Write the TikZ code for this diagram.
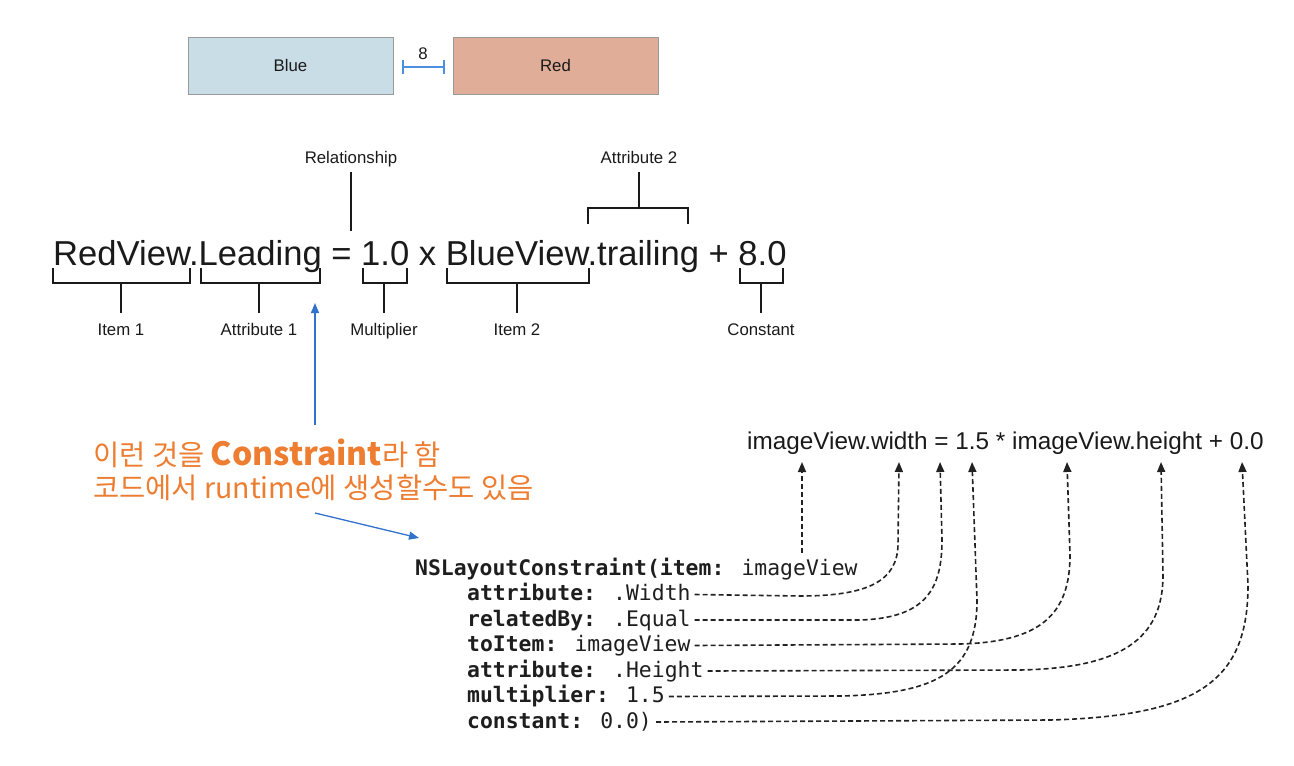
\documentclass[tikz,border=0pt]{standalone}
\usepackage{fontspec}
\setmainfont{Liberation Sans}
\newfontfamily\krfont{Noto Sans CJK KR}
\newfontfamily\codefont{DejaVu Sans Mono}
\usetikzlibrary{arrows.meta}
\definecolor{ink}{HTML}{1A1A1A}
\definecolor{codeink}{HTML}{1E1E1E}
\definecolor{dashink}{HTML}{222222}
\definecolor{bluefill}{HTML}{C9DDE7}
\definecolor{redfill}{HTML}{E0AD98}
\definecolor{boxline}{HTML}{9A9A9A}
\definecolor{dimblue}{HTML}{4A8FE0}
\definecolor{arrblue}{HTML}{3272CC}
\definecolor{orangetxt}{HTML}{ED7D31}
\tikzset{
  viewbox/.style={draw=boxline, line width=1pt, minimum width=205pt, minimum height=57pt, inner sep=0, text=ink, font=\fontsize{16.8}{18}\selectfont},
  lbl/.style={font=\fontsize{16.8}{18}\selectfont, inner sep=0, anchor=base, text=ink},
  brk/.style={line width=1.3pt, draw=ink},
  codeline/.style={font=\codefont\fontsize{21.4}{25}\selectfont, anchor=base west, inner sep=0, text=codeink},
  dsh/.style={dash pattern=on 5pt off 3pt, line width=1.6pt, draw=dashink, -{Triangle[length=10pt,width=8pt]}},
  bluearr/.style={draw=arrblue, line width=1.3pt, -{Triangle[length=10pt,width=8pt]}},
  note/.style={anchor=base west, inner sep=0, text=orangetxt, font=\krfont\fontsize{28.5}{33}\selectfont},
}
\begin{document}
\begin{tikzpicture}[x=1pt,y=-1pt]
\useasboundingbox (0,0) rectangle (1294,766);
\fill[white] (0,0) rectangle (1294,766);

% top boxes
\node[viewbox, fill=bluefill] (blue) at (290.5,65.5) {Blue};
\node[viewbox, fill=redfill] (red) at (555.5,65.5) {Red};
\draw[draw=dimblue, line width=2pt, {Bar[width=14pt]}-{Bar[width=14pt]}] ([xshift=8pt,yshift=-1.5pt]blue.east) -- ([xshift=-8pt,yshift=-1.5pt]red.west) node[midway, above=6pt, inner sep=0, text=ink, font=\fontsize{16.8}{18}\selectfont] (gap) {8};

% main equation
\node[anchor=base west, inner sep=0, text=ink, font=\fontsize{34.6}{40}\selectfont] (eq) at (53,265) {RedView.Leading = 1.0 x BlueView.trailing + 8.0};

% labels
\node[lbl] (rel) at (351,163) {Relationship};
\node[lbl] (a2) at (639,163) {Attribute 2};
\node[lbl] (i1) at (121,335) {Item 1};
\node[lbl] (a1) at (259,335) {Attribute 1};
\node[lbl] (mul) at (384,335) {Multiplier};
\node[lbl] (i2) at (517,335) {Item 2};
\node[lbl] (con) at (761,335) {Constant};

% brackets
\draw[brk] ([yshift=-9pt]rel.base) -- (351,231);
\draw[brk] (588,224) |- (688,208) -- (688,224);
\draw[brk] (639,208) -- ([yshift=-9pt]a2.base);
\draw[brk] (53,268) |- (190,283) -- (190,268);
\draw[brk] (121,283) -- ([yshift=22pt]i1.base);
\draw[brk] (201,268) |- (320,283) -- (320,268);
\draw[brk] (259,283) -- ([yshift=22pt]a1.base);
\draw[brk] (363,268) |- (407,283) -- (407,268);
\draw[brk] (384,283) -- ([yshift=22pt]mul.base);
\draw[brk] (447,268) |- (589,283) -- (589,268);
\draw[brk] (517,283) -- ([yshift=22pt]i2.base);
\draw[brk] (740,268) |- (783,283) -- (783,268);
\draw[brk] (761,283) -- ([yshift=22pt]con.base);

% orange note
\node[note] (o1) at (93,465) {이런 것을 {\fontsize{32}{33}\selectfont\textbf{Constraint}}라 함};
\node[note] (o2) at (93,498) {코드에서 runtime에 생성할수도 있음};
\coordinate (b1s) at (315,425);
\coordinate (b1e) at (315,303);
\coordinate (b2s) at (315,513);
\coordinate (b2e) at (419,538);
\draw[bluearr] (b1s) -- (b1e);
\draw[bluearr] (b2s) -- (b2e);

% bottom right equation
\node[anchor=base west, inner sep=0, text=ink, font=\fontsize{24.3}{28}\selectfont] (e2) at (747,449) {imageView.width = 1.5 * imageView.height + 0.0};

% code
\node[codeline] (l1) at (415,575) {\textbf{NSLayoutConstraint(item:} imageView};
\node[codeline] (l2) at (467,600.5) {\textbf{attribute:} .Width};
\node[codeline] (l3) at (467,626) {\textbf{relatedBy:} .Equal};
\node[codeline] (l4) at (467,651.5) {\textbf{toItem:} imageView};
\node[codeline] (l5) at (467,677) {\textbf{attribute:} .Height};
\node[codeline] (l6) at (467,702.5) {\textbf{multiplier:} 1.5};
\node[codeline] (l7) at (467,728) {\textbf{constant:} 0.0)};

% arrow tips
\coordinate (t1) at (802,462);
\coordinate (t2) at (899,462);
\coordinate (t3) at (940,462);
\coordinate (t4) at (972,462);
\coordinate (t5) at (1067,462);
\coordinate (t6) at (1161,462);
\coordinate (t7) at (1242,462);
\coordinate (s1) at (802,553);

\draw[dsh] (s1) -- (t1);
\draw[dsh] ([xshift=4pt,yshift=6pt]l2.base east) -- (800,596) .. controls (870,596) and (897,580) .. (898,545) -- (t2);
\draw[dsh] ([xshift=4pt,yshift=6pt]l3.base east) -- (860,620) .. controls (925,618) and (942,590) .. (942,540) -- (t3);
\draw[dsh] ([xshift=4pt,yshift=6pt]l4.base east) -- (960,644) .. controls (1040,642) and (1070,615) .. (1070,555) -- (t5);
\draw[dsh] ([xshift=4pt,yshift=6pt]l5.base east) -- (1020,670) .. controls (1120,668) and (1163,640) .. (1163,575) -- (t6);
\draw[dsh] ([xshift=4pt,yshift=6pt]l6.base east) -- (840,696) .. controls (940,694) and (977,670) .. (977,600) -- (t4);
\draw[dsh] ([xshift=4pt,yshift=6pt]l7.base east) -- (1050,720) .. controls (1200,716) and (1248,680) .. (1248,585) -- (t7);
\end{tikzpicture}
\end{document}
